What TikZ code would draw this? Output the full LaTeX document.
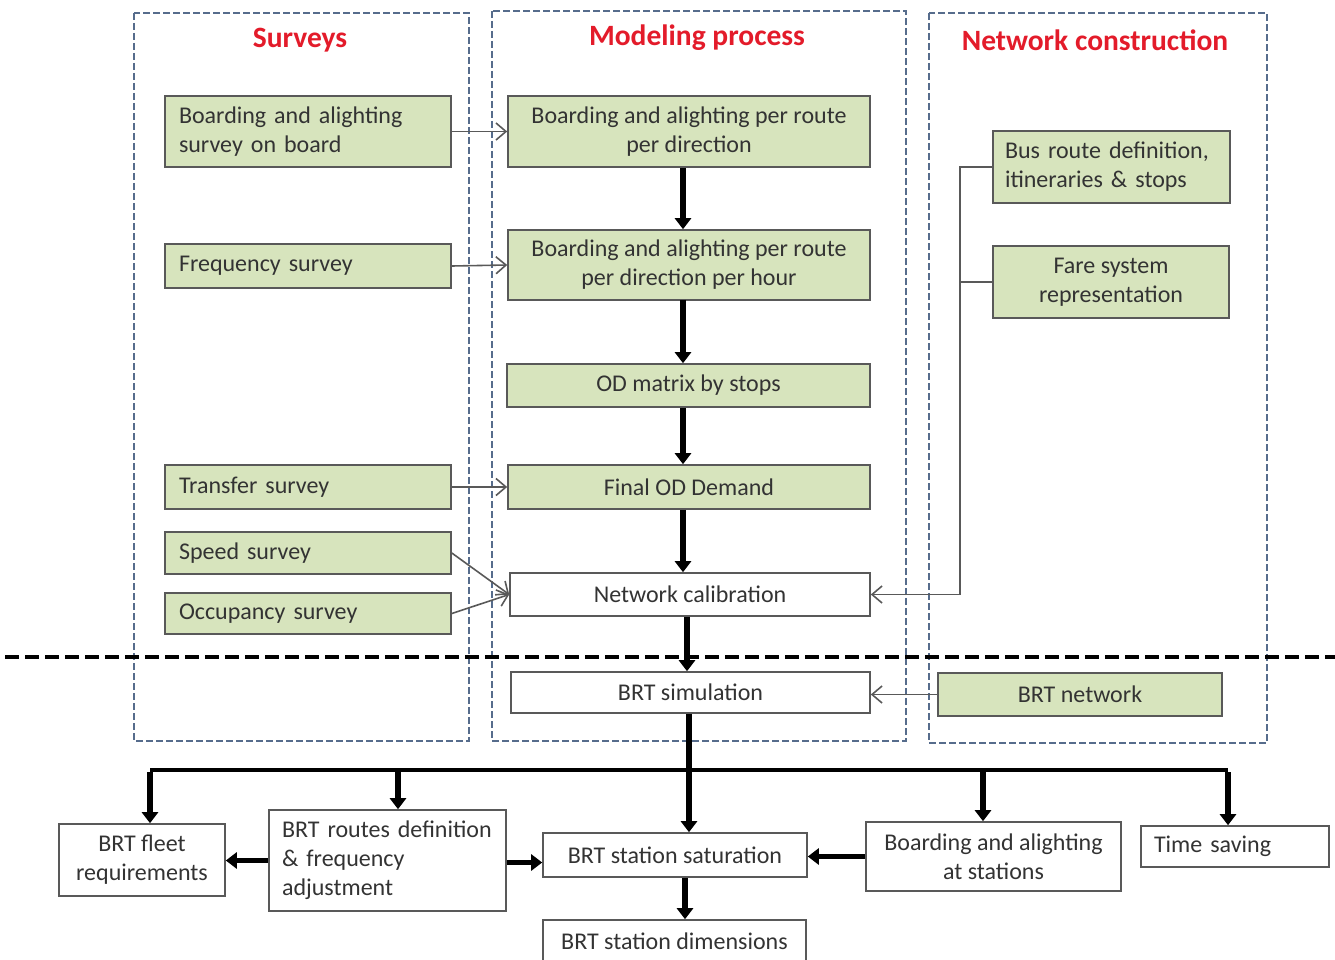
\documentclass[tikz,border=0pt]{standalone}
\usepackage{fontspec}
\setmainfont{Carlito}
\usetikzlibrary{arrows.meta}
\definecolor{gfill}{HTML}{D7E4BD}
\definecolor{bord}{HTML}{595959}
\definecolor{txt}{HTML}{333333}
\definecolor{dashc}{HTML}{566C8C}
\definecolor{ttl}{HTML}{E31B2A}
\tikzset{
  box/.style={draw=bord, line width=1.6pt, inner sep=0pt, text=txt, font=\fontsize{24}{29}\selectfont, align=center},
  gbox/.style={box, fill=gfill},
  wbox/.style={box, fill=white},
  lbox/.style={align=left, text width=#1},
  ttlstyle/.style={text=ttl, font=\fontsize{29.5}{32}\selectfont\bfseries},
  group/.style={draw=dashc, line width=2.2pt, dash pattern=on 7pt off 3pt},
  thinarrow/.style={draw=bord, line width=1.6pt, -{Straight Barb[length=10pt,width=17pt,line width=1.6pt]}},
  thinline/.style={draw=bord, line width=1.6pt},
  heavyarrow/.style={draw=black, line width=5.5pt, -{Triangle[length=11pt,width=16pt]}},
  busline/.style={draw=black, line width=4pt},
}
\begin{document}
\begin{tikzpicture}[x=1pt,y=-1pt]
\useasboundingbox (0,0) rectangle (1335,960);
% groups
\draw[group] (134,13) rectangle (469,741);
\draw[group] (492,11) rectangle (906,741);
\draw[group] (929,13) rectangle (1267,743);
\node[ttlstyle] (t1) at (300,40) {Surveys};
\node[ttlstyle] (t2) at (697,38) {Modeling process};
\node[ttlstyle] (t3) at (1095,40) {Network construction};
% separator
\draw[black, line width=4.5pt, dash pattern=on 14pt off 6pt] (5,657) -- (1335,657);
% surveys
\node[gbox, minimum width=286, minimum height=71, lbox=258] (s1) at (308,131.5) {Boarding and alighting\\survey on board};
\node[gbox, minimum width=286, minimum height=44, lbox=258] (s2) at (308,266) {Frequency survey};
\node[gbox, minimum width=286, minimum height=44, lbox=258] (s3) at (308,487) {Transfer survey};
\node[gbox, minimum width=286, minimum height=42, lbox=258] (s4) at (308,553) {Speed survey};
\node[gbox, minimum width=286, minimum height=41, lbox=258] (s5) at (308,613.5) {Occupancy survey};
% modeling
\node[gbox, minimum width=362, minimum height=71] (m1) at (689,131.5) {Boarding and alighting per route\\per direction};
\node[gbox, minimum width=362, minimum height=70] (m2) at (689,265) {Boarding and alighting per route\\per direction per hour};
\node[gbox, minimum width=363, minimum height=43] (m3) at (688.5,385.5) {OD matrix by stops};
\node[gbox, minimum width=362, minimum height=44] (m4) at (689,487) {Final OD Demand};
\node[wbox, minimum width=360, minimum height=43] (m5) at (690,594.5) {Network calibration};
\node[wbox, minimum width=359, minimum height=41] (m6) at (690.5,692.5) {BRT simulation};
% network
\node[gbox, minimum width=237, minimum height=72, lbox=213] (n1) at (1111.5,167) {Bus route definition,\\itineraries \& stops};
\node[gbox, minimum width=236, minimum height=72] (n2) at (1111,282) {Fare system\\representation};
\node[gbox, minimum width=284, minimum height=43] (n3) at (1080,694.5) {BRT network};
% bottom
\node[wbox, minimum width=166, minimum height=72] (b1) at (142,860) {BRT fleet\\requirements};
\node[wbox, minimum width=237, minimum height=101, lbox=211] (b2) at (387.5,860.5) {BRT routes definition\\\& frequency\\adjustment};
\node[wbox, minimum width=264, minimum height=44] (b3) at (675,855) {BRT station saturation};
\node[wbox, minimum width=263, minimum height=42] (b4) at (674.5,941) {BRT station dimensions};
\node[wbox, minimum width=255, minimum height=69] (b5) at (993.5,856.5) {Boarding and alighting\\at stations};
\node[wbox, minimum width=188, minimum height=41, lbox=162] (b6) at (1235,846.5) {Time saving};
% thin arrows
\draw[thinarrow] (s1.east) -- (m1.west);
\draw[thinarrow] (s2.east) -- (m2.west);
\draw[thinarrow] (s3.east) -- (m4.west);
\draw[thinarrow] (s4.east) -- (m5.west);
\draw[thinarrow] (s5.east) -- (m5.west);
\coordinate (nb) at (960,0);
\draw[thinarrow] (n1.west) -- (n1.west -| nb) |- (m5.east);
\draw[thinline] (n2.west) -- (n2.west -| nb);
\draw[thinarrow] (n3.west) -- (n3.west -| m6.east);
% heavy arrows in modeling column
\coordinate (ax) at (683,0);
\draw[heavyarrow] (m1.south -| ax) -- (m2.north -| ax);
\draw[heavyarrow] ([yshift=1pt]m2.south -| ax) -- (m3.north -| ax);
\draw[heavyarrow] (m3.south -| ax) -- (m4.north -| ax);
\draw[heavyarrow] (m4.south -| ax) -- (m5.north -| ax);
\coordinate (ax2) at (687,0);
\draw[heavyarrow] (m5.south -| ax2) -- (m6.north -| ax2);
% output bus
\coordinate (jL) at (150,770);
\coordinate (jR) at (1228,770);
\coordinate (j2) at (398,770);
\coordinate (j5) at (983,770);
\coordinate (jt) at (689,0);
\draw[busline] (jL) -- (jR);
\draw[heavyarrow] (m6.south -| jt) -- (b3.north -| jt);
\draw[heavyarrow] ([yshift=-2pt]jL) -- (jL |- b1.north);
\draw[heavyarrow] ([yshift=-2pt]j2) -- (j2 |- b2.north);
\draw[heavyarrow] ([yshift=-2pt]j5) -- (j5 |- b5.north);
\draw[heavyarrow] ([yshift=-2pt]jR) -- (jR |- b6.north);
\draw[heavyarrow] (b2.west) -- (b2.west -| b1.east);
\draw[heavyarrow] ([yshift=-2pt]b2.east) -- ([yshift=-2pt]b2.east -| b3.west);
\draw[heavyarrow] (b5.west) -- (b5.west -| b3.east);
\coordinate (bx) at (685,0);
\draw[heavyarrow] (b3.south -| bx) -- (b4.north -| bx);
\end{tikzpicture}
\end{document}
